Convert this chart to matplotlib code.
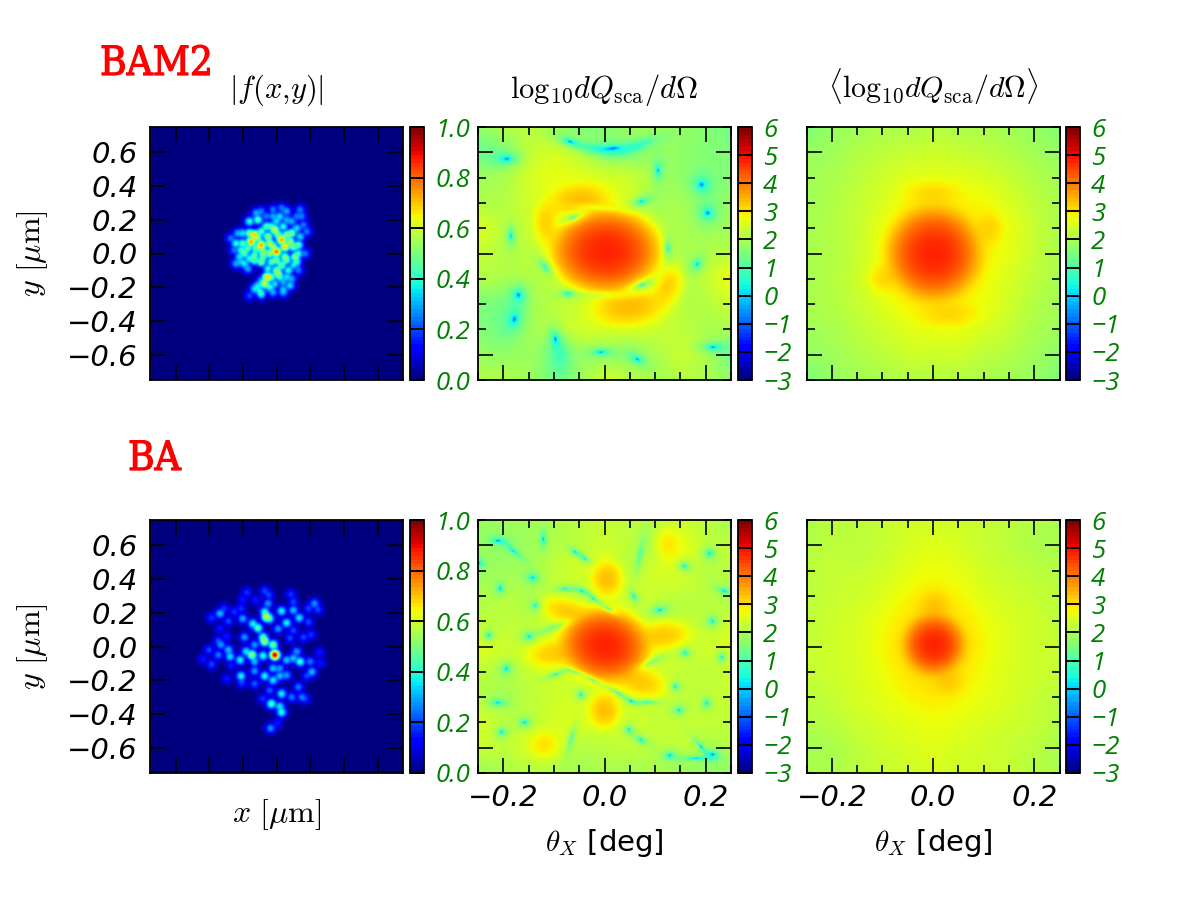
import numpy as np
import matplotlib
matplotlib.use('Agg')
import matplotlib.pyplot as plt
import matplotlib.patheffects as pe
from matplotlib import cm, colors
from matplotlib.ticker import MultipleLocator

plt.rcParams['mathtext.fontset'] = 'cm'
plt.rcParams['font.family'] = 'DejaVu Sans'

# monomers of the two aggregates: x [um], y [um], |f|
bam2_x = [.03, -.02, .06, .14, .15, -.12, -.06, .02, -.16, -.11, -.06, 0, .09, .16, .18, -.23, -.27, -.24, -.20, -.19,
          -.22, -.24, -.19, -.17, -.13, -.09, -.03, .03, .06, .11, .13, .17, .10, .09, .08, .12, .07, .13, .09, .08,
          .04, -.01, .04, -.02, -.09, -.13, -.16, -.11, .01, -.04, -.08, -.16,
          -.15, -.13, -.09, 0, .03, .05, -.01, -.02, -.05, -.055, -.07, 0,
          -.2, -.17, -.12, -.13, -.16, -.09, -.03, .04, .12, .06, -.02, -.09, .12, .14, .06, .13, .10, .05, 0, -.05,
          .02, .06, .04, -.03, -.04, -.1, -.09, -.21, -.25, -.21, -.08, -.11, -.04, .01]
bam2_y = [.27, .26, .25, .26, .22, .24, .22, .22, .19, .20, .16, .19, .19, .17, .13, .12, .09, .06, .06, 0,
          -.02, -.06, -.06, -.09, -.04, -.05, -.05, -.07, -.04, -.02, 0, 0, .04, .12, .07, -.05, -.10, -.10, -.15, -.19,
          -.17, -.18, -.23, -.23, -.24, -.21, -.25, -.19, -.12, 0, .01, .12,
          .07, .11, .05, .01, .08, .04, .14, .04, .10, -.14, -.18, -.10,
          .12, .03, .03, -.01, -.03, .13, .16, .16, .15, .20, .22, .25, .22, .10, .11, .05, -.07, -.02, -.04, -.09,
          -.14, -.14, -.21, -.14, -.2, -.22, -.16, .02, .02, -.05, -.02, .09, .06, .11]
bam2_a = [.25, .25, .3, .25, .25, .3, .25, .35, .4, .45, .45, .35, .3, .25, .25, .3, .25, .4, .45, .45,
          .35, .3, .35, .3, .45, .5, .45, .5, .45, .5, .4, .25, .5, .5, .55, .4, .4, .25, .3, .35,
          .3, .35, .3, .3, .4, .35, .2, .35, .5, .55, .55, .5,
          .75, .7, .75, .8, .75, .7, .6, .55, .55, .7, .6, .5,
          .35, .45, .5, .45, .4, .45, .4, .4, .35, .3, .3, .25, .25, .35, .5, .45, .35, .5, .5, .4,
          .4, .35, .3, .45, .4, .35, .3, .4, .25, .3, .45, .5, .55, .5]

ba_x = [-.01, -.06, -.07, -.02, -.145, .14, -.11, -.14, .03, .1, .135, .06, .01, -.07, -.04, -.08, -.08, -.13, -.19, -.2,
        -.335, -.385, -.285, -.25, -.31, -.21, -.175, -.2, -.125, -.07, -.045, -.05, .085, .1, .19, .225, .245, .19, .205, .16,
        .1, .08, -.335, -.295, -.345, -.33, -.4, -.345, -.435, -.385, -.285, -.275, -.215, -.18, -.265, -.13, -.13, -.295, -.21, -.205,
        -.13, -.07, -.02, .02, .06, -.02, .06, .12, .1, .2, .255, .26, .21, .18, .13, -.04, .03, -.08, -.03, .02,
        .03, .09, .15, .17, -.035, .005, .02]
ba_y = [-.05, .175, .03, .01, -.05, -.09, .11, .135, .21, .215, .17, .14, .105, .205, .165, .055, -.055, .01, .055, .165,
        .195, .17, .15, .205, .225, .225, .32, .28, .275, .33, .305, .255, .31, .265, .225, .255, .22, .145, .07, .055,
        .095, .05, .105, .06, .035, .01, -.02, -.05, -.075, -.105, -.02, -.06, -.08, -.03, -.11, -.09, -.145, -.19, -.175, -.215,
        -.22, -.175, -.2, -.175, -.17, -.13, -.08, -.03, -.07, -.09, -.035, -.095, -.15, -.175, -.24, -.26, -.28, -.31, -.34, -.355,
        -.39, -.3, -.3, -.31, -.485, -.455, -.13]
ba_a = [.95, .6, .55, .5, .55, .42, .45, .38, .38, .32, .36, .38, .28, .4, .4, .45, .4, .28, .28, .3,
        .32, .18, .2, .18, .18, .18, .18, .15, .15, .2, .2, .28, .18, .2, .2, .28, .2, .2, .18, .2,
        .2, .2, .15, .15, .2, .28, .2, .25, .15, .2, .32, .35, .38, .36, .15, .32, .28, .15, .38, .2,
        .22, .38, .36, .32, .28, .32, .32, .28, .32, .25, .15, .15, .32, .2, .25, .22, .38, .18, .45, .36,
        .4, .25, .25, .18, .28, .15, .28]

# log10 dQ/dOmega read at every 0.05 deg, rows from y=+0.25 down to y=-0.25
bam2_grid = [[1.8, 2.1, 2.2, 1.8, 1.4, 1.6, 1.9, 1.9, 1.8, 1.6, 1.4],
             [1.2, 1.5, 2.3, 2.5, 2.2, 1.6, 1.5, 1.8, 1.7, 1.6, 1.5],
             [1.9, 2.0, 2.5, 2.7, 2.6, 2.5, 2.4, 2.0, 1.7, 1.5, 1.6],
             [2.0, 2.1, 2.4, 2.6, 2.8, 2.8, 2.4, 1.9, 2.0, 1.6, 1.8],
             [2.6, 2.2, 2.3, 2.6, 2.6, 2.4, 2.2, 2.1, 2.0, 1.8, 1.9],
             [2.3, 2.1, 2.2, 2.4, 2.4, 2.4, 2.4, 2.2, 2.0, 2.1, 2.1],
             [2.1, 2.1, 2.1, 2.2, 2.4, 2.3, 2.2, 2.2, 2.0, 2.3, 2.9],
             [1.5, 1.4, 1.9, 2.2, 2.3, 2.4, 2.3, 2.2, 2.1, 2.1, 2.4],
             [1.6, 1.3, 1.9, 2.3, 2.5, 2.5, 2.5, 2.4, 2.2, 2.0, 2.0],
             [1.8, 1.7, 1.9, 1.4, 1.8, 1.7, 1.6, 2.0, 2.4, 2.1, 1.2],
             [2.1, 2.1, 1.9, 1.4, 1.8, 2.5, 2.2, 1.9, 2.1, 2.0, 1.8]]
ba_grid = [[1.7, 2.0, 1.9, 2.0, 2.2, 2.3, 2.2, 2.1, 2.3, 2.2, 1.8],
           [1.9, 1.6, 1.9, 2.1, 2.2, 2.4, 2.2, 2.0, 2.8, 2.2, 2.3],
           [1.8, 1.9, 1.9, 2.3, 2.5, 2.5, 2.1, 2.5, 2.6, 2.1, 2.2],
           [2.0, 2.2, 2.0, 2.2, 2.1, 2.3, 2.5, 2.3, 2.2, 2.2, 1.9],
           [2.2, 2.2, 2.2, 2.5, 2.6, 2.5, 2.4, 2.2, 2.2, 2.2, 2.4],
           [2.7, 2.4, 2.3, 2.4, 2.5, 2.5, 2.5, 2.3, 2.4, 2.4, 2.6],
           [2.2, 2.1, 2.3, 2.4, 2.4, 2.4, 2.5, 2.4, 2.3, 2.2, 2.4],
           [2.1, 1.9, 2.2, 2.4, 2.4, 2.5, 2.3, 2.3, 2.2, 2.3, 2.3],
           [2.5, 2.2, 2.2, 2.5, 2.6, 2.4, 2.4, 2.3, 2.3, 2.3, 2.2],
           [2.4, 2.2, 2.6, 2.6, 2.1, 2.2, 2.3, 2.2, 2.3, 2.0, 2.2],
           [1.8, 2.0, 2.1, 2.0, 1.9, 2.0, 1.9, 2.0, 1.8, 1.7, 1.7]]
bam2_avg_grid = [[1.5, 1.8, 1.9, 2.0, 2.0, 2.1, 2.0, 2.0, 1.9, 1.8, 1.5],
                 [1.8, 1.9, 2.1, 2.2, 2.3, 2.4, 2.3, 2.2, 2.1, 1.9, 1.8],
                 [1.9, 2.0, 2.2, 2.4, 2.6, 2.6, 2.6, 2.5, 2.3, 2.1, 1.9],
                 [1.9, 2.1, 2.3, 2.5, 2.8, 2.8, 2.8, 2.8, 2.5, 2.2, 2.0],
                 [2.0, 2.1, 2.3, 2.6, 2.8, 2.9, 2.8, 2.8, 2.7, 2.3, 2.0],
                 [2.0, 2.1, 2.3, 2.6, 2.8, 2.9, 2.8, 2.8, 2.6, 2.3, 2.0],
                 [2.0, 2.1, 2.4, 2.7, 2.8, 2.9, 2.8, 2.7, 2.5, 2.2, 2.0],
                 [2.0, 2.1, 2.3, 2.6, 2.8, 2.8, 2.8, 2.7, 2.4, 2.1, 1.9],
                 [1.9, 2.0, 2.2, 2.4, 2.6, 2.7, 2.7, 2.5, 2.3, 2.0, 1.9],
                 [1.8, 1.9, 2.1, 2.2, 2.4, 2.4, 2.4, 2.2, 2.1, 1.9, 1.7],
                 [1.5, 1.8, 1.9, 2.0, 2.1, 2.1, 2.1, 2.0, 1.9, 1.8, 1.5]]
ba_avg_grid = [[2.0, 2.2, 2.2, 2.3, 2.4, 2.4, 2.4, 2.3, 2.2, 2.1, 2.0],
               [2.1, 2.2, 2.2, 2.3, 2.5, 2.6, 2.5, 2.3, 2.2, 2.0, 2.0],
               [2.2, 2.3, 2.3, 2.4, 2.6, 2.7, 2.6, 2.4, 2.3, 2.2, 2.1],
               [2.2, 2.3, 2.4, 2.5, 2.7, 2.8, 2.7, 2.5, 2.4, 2.3, 2.2],
               [2.2, 2.4, 2.5, 2.6, 2.8, 2.9, 2.8, 2.6, 2.5, 2.4, 2.2],
               [2.3, 2.4, 2.5, 2.7, 2.9, 3.0, 2.9, 2.7, 2.5, 2.4, 2.3],
               [2.3, 2.4, 2.5, 2.6, 2.8, 2.9, 2.8, 2.6, 2.5, 2.4, 2.3],
               [2.2, 2.3, 2.5, 2.6, 2.7, 2.8, 2.7, 2.6, 2.5, 2.3, 2.2],
               [2.1, 2.2, 2.4, 2.5, 2.6, 2.7, 2.6, 2.5, 2.4, 2.3, 2.1],
               [1.9, 2.0, 2.2, 2.4, 2.5, 2.6, 2.5, 2.4, 2.3, 2.2, 2.0],
               [2.1, 2.0, 2.2, 2.3, 2.4, 2.5, 2.4, 2.4, 2.3, 2.1, 2.0]]

# bright lobes: x, y, half width, half height, angle, peak
bam2_lobes = [(.003, .005, .103, .08, 0, 4.85), (-.05, .105, .08, .045, 5, 3.25), (-.115, .06, .035, .06, 0, 3.1),
              (.05, -.105, .1, .05, 5, 3.35), (.125, -.062, .04, .055, -20, 3.15)]
ba_lobes = [(.001, .002, .085, .07, -10, 4.85), (-.10, -.014, .075, .04, 5, 3.15), (-.075, .07, .075, .035, -15, 3.15),
            (.115, .022, .075, .04, 5, 3.2), (.07, -.07, .075, .04, -15, 3.2), (.005, .133, .042, .05, 0, 3.3),
            (0, -.126, .042, .048, 0, 3.3), (.125, .202, .035, .05, 0, 2.85), (-.119, -.194, .04, .04, 0, 2.85)]
bam2_avg_lobes = [(.001, 0, .09, .09, 0, 4.85), (0, 0, .15, .15, 0, 2.9), (.11, .05, .04, .05, 0, 2.92),
                  (-.1, -.05, .04, .04, 0, 2.85), (.03, -.12, .09, .035, 0, 2.88), (0, .12, .08, .035, 0, 2.85)]
ba_avg_lobes = [(.001, .004, .06, .06, 0, 4.85), (.002, .08, .045, .045, 0, 3.05), (.03, -.07, .045, .04, 0, 2.9),
                (0, 0, .16, .18, 0, 2.85)]

# minima of the pattern: x, y, half width, half height, angle, floor
bam2_nulls = [(-.068, .221, .03, .01, -20, .002), (.017, .208, .035, .01, 5, .003), (-.02, .208, .05, .012, -10, .1),
              (.07, .215, .05, .012, 20, .1), (.106, .164, .012, .025, 0, .003), (.192, .136, .02, .02, 0, .001),
              (.073, .103, .025, .012, 20, .002), (.204, .080, .02, .02, 0, .001), (-.193, .187, .03, .015, 0, .002),
              (-.185, .035, .012, .025, 0, .003), (.125, .010, .01, .025, 0, .004), (-.117, -.026, .012, .025, 40, .01),
              (.183, -.021, .015, .02, -30, .004), (-.072, -.079, .02, .01, 0, .005), (.074, -.062, .03, .012, 20, .001),
              (-.170, -.082, .02, .025, 0, .001), (-.178, -.130, .018, .025, -15, .001), (-.097, -.169, .015, .03, 10, .001),
              (-.007, -.195, .025, .01, 0, .002), (.065, -.209, .022, .012, -30, .002), (.214, -.185, .03, .012, 0, .002),
              (-.062, .072, .03, .012, 20, .005), (-.085, -.205, .02, .04, 0, .3), (-.01, .09, .05, .006, -5, .35),
              (-.01, -.082, .05, .007, 0, .3)]
ba_nulls = [(-.211, .209, .02, .008, -5, .001), (-.180, .189, .03, .006, -40, .01), (-.121, .212, .008, .022, 0, .001),
            (-.058, .187, .016, .008, -35, .002), (-.039, .174, .016, .008, -35, .002), (-.142, .136, .016, .012, 0, .003),
            (-.206, .115, .012, .015, 0, .001), (-.136, .081, .014, .014, 0, .004), (-.229, .022, .014, .014, 0, .002),
            (-.149, .020, .016, .012, 0, .003), (-.101, .038, .04, .008, 20, .1), (-.078, .114, .02, .006, 0, .006),
            (-.045, .110, .02, .006, -20, .003), (-.022, .095, .02, .006, -35, .002), (.007, .075, .02, .006, -30, .003),
            (.058, .099, .01, .018, 30, .003), (.109, .072, .022, .012, 10, .001), (.070, .182, .008, .04, -10, .08),
            (.158, .159, .016, .014, 0, .002), (.207, .184, .014, .014, 0, .003), (.237, .110, .02, .008, -20, .003),
            (.213, .050, .014, .014, 0, .003), (.159, -.012, .014, .012, 0, .003), (.232, -.021, .012, .014, 0, .003),
            (.093, -.031, .03, .008, 25, .1), (-.194, -.044, .015, .014, 0, .002), (-.096, -.055, .025, .006, 20, .001),
            (-.06, -.05, .03, .005, -15, .02), (-.024, -.066, .025, .005, -25, .001), (.028, -.093, .03, .005, -30, .004),
            (.053, -.108, .014, .005, -20, .001), (.083, -.110, .03, .006, 0, .008), (-.047, -.095, .012, .012, 0, .004),
            (.140, -.079, .012, .012, 0, .003), (.202, -.112, .012, .014, 0, .003), (.147, -.126, .015, .012, 0, .002),
            (-.211, -.111, .02, .01, 0, .002), (-.158, -.150, .016, .012, 0, .002), (-.203, -.169, .014, .012, 30, .003),
            (-.065, -.182, .008, .035, -15, .06), (.048, -.164, .012, .012, -30, .004), (.072, -.184, .02, .01, -30, .004),
            (.129, -.215, .018, .012, 0, .002), (.214, -.213, .018, .012, 0, .0003), (.191, -.198, .028, .006, -50, .002),
            (.181, -.221, .04, .006, 0, .006), (-.248, .165, .012, .012, 0, .003)]

titles = [r'$|f(x{,}y)|$', r'$\log_{10}\!dQ_{\mathrm{sca}}/d\Omega$', r'$\langle\log_{10}\!dQ_{\mathrm{sca}}/d\Omega\rangle$']
row_names = ['BAM2', 'BA']
cb_ticks_left = [0, .2, .4, .6, .8, 1]
cb_labels_left = ['0.0', '0.2', '0.4', '0.6', '0.8', '1.0']
cb_ticks_q = [-3, -2, -1, 0, 1, 2, 3, 4, 5, 6]
cb_labels_q = ['\u22123', '\u22122', '\u22121', '0', '1', '2', '3', '4', '5', '6']
y_ticks = [-.6, -.4, -.2, 0, .2, .4, .6]
y_labels = ['\u22120.6', '\u22120.4', '\u22120.2', '0.0', '0.2', '0.4', '0.6']
theta_labels = ['\u22120.2', '0.0', '0.2']


def monomer_image(xs, ys, amps, sigma=.022, n=180):
    g = (np.arange(n) + .5) / n * 1.5 - .75
    X, Y = np.meshgrid(g, g)
    total = np.zeros_like(X)
    for x0, y0, a in zip(xs, ys, amps):
        total += (a * np.exp(-((X - x0) ** 2 + (Y - y0) ** 2) / (2 * sigma ** 2))) ** 3
    return total ** (1 / 3)


def smooth_grid(grid, n, passes=3):
    coarse = np.array(grid)[::-1]
    src = np.linspace(-.25, .25, coarse.shape[0])
    g = (np.arange(n) + .5) / n * .5 - .25
    rows = np.array([np.interp(g, src, r) for r in coarse])
    fine = np.array([np.interp(g, src, c) for c in rows.T]).T
    w = n // 22
    kernel = np.ones(w) / w
    for _ in range(passes):
        fine = np.array([np.convolve(np.pad(r, w, mode='edge'), kernel, mode='same')[w:-w] for r in fine])
        fine = np.array([np.convolve(np.pad(c, w, mode='edge'), kernel, mode='same')[w:-w] for c in fine.T]).T
    return g, fine


def pattern_image(grid, lobes, nulls, n=400):
    g, base = smooth_grid(grid, n)
    X, Y = np.meshgrid(g, g)
    Q = 10.0 ** base
    for x0, y0, rx, ry, ang, peak in lobes:
        t = np.radians(ang)
        u = (X - x0) * np.cos(t) + (Y - y0) * np.sin(t)
        v = -(X - x0) * np.sin(t) + (Y - y0) * np.cos(t)
        d2 = (u / rx) ** 2 + (v / ry) ** 2
        Q += 10.0 ** (peak - 1.3 * d2 - .4 * d2 ** 2)
    for x0, y0, rx, ry, ang, floor in nulls:
        t = np.radians(ang)
        u = (X - x0) * np.cos(t) + (Y - y0) * np.sin(t)
        v = -(X - x0) * np.sin(t) + (Y - y0) * np.cos(t)
        d2 = (u / rx) ** 2 + (v / ry) ** 2
        Q *= 1 - (1 - floor) * np.exp(-d2 / 1.4)
    return np.log10(Q)


def add_axes_px(fig, left, top, right, bottom):
    W, H = 1200.0, 900.0
    return fig.add_axes([left / W, 1 - bottom / H, (right - left) / W, (bottom - top) / H])


def add_colorbar(fig, mappable_range, ticks, labels, left, top, bottom):
    cax = add_axes_px(fig, left, top, left + 14, bottom)
    sm = cm.ScalarMappable(norm=colors.Normalize(*mappable_range), cmap=plt.get_cmap('jet', 64))
    cb = fig.colorbar(sm, cax=cax)
    cb.set_ticks(ticks)
    cb.set_ticklabels(labels)
    cb.outline.set_linewidth(1.3)
    cax.minorticks_off()
    cax.tick_params(which='major', direction='in', length=10, width=1.2, left=True, right=True,
                    labelright=True, labelleft=False, pad=8, labelcolor='green')
    for t in cax.get_yticklabels():
        t.set_family('Open Sans')
        t.set_style('italic')
        t.set_fontsize(18.5)
    return cb


def style_axes(ax, span, ticks, minor=None):
    ax.set_xlim(-span, span)
    ax.set_ylim(-span, span)
    ax.set_xticks(ticks)
    ax.set_yticks(ticks)
    if minor:
        ax.xaxis.set_minor_locator(MultipleLocator(minor))
        ax.yaxis.set_minor_locator(MultipleLocator(minor))
    ax.tick_params(which='major', direction='in', length=11, width=1.2, top=True, right=True,
                   labelbottom=False, labelleft=False)
    ax.tick_params(which='minor', direction='in', length=5.5, width=1.2, top=True, right=True)
    for s in ax.spines.values():
        s.set_linewidth(1.3)


fig = plt.figure(figsize=(12, 9), dpi=100)

row_tops = [127, 520]
row_bottoms = [380, 773]
monomers = [(bam2_x, bam2_y, bam2_a), (ba_x, ba_y, ba_a)]
patterns = [(bam2_grid, bam2_lobes, bam2_nulls), (ba_grid, ba_lobes, ba_nulls)]
averages = [(bam2_avg_grid, bam2_avg_lobes, []), (ba_avg_grid, ba_avg_lobes, [])]

for r in range(2):
    top, bottom = row_tops[r], row_bottoms[r]

    # aggregate image
    ax = add_axes_px(fig, 150, top, 403.5, bottom)
    ax.imshow(monomer_image(*monomers[r]), origin='lower', extent=[-.75, .75, -.75, .75],
              cmap='jet', vmin=0, vmax=1, interpolation='bilinear')
    style_axes(ax, .75, y_ticks)
    ax.set_yticklabels(y_labels, fontsize=21, style='italic')
    ax.tick_params(axis='y', labelleft=True, pad=9)
    ax.set_ylabel(r'$y\ [\mu\mathrm{m}]$', fontsize=23)
    ax.yaxis.set_label_coords(-.395, .5)
    add_colorbar(fig, (0, 1), cb_ticks_left, cb_labels_left, 410, top, bottom)

    # single orientation pattern
    ax2 = add_axes_px(fig, 477.5, top, 731.5, bottom)
    ax2.imshow(pattern_image(*patterns[r]), origin='lower',
               extent=[-.25, .25, -.25, .25], cmap='jet', vmin=-3, vmax=6, interpolation='bilinear')
    style_axes(ax2, .25, [-.2, 0, .2], .05)
    add_colorbar(fig, (-3, 6), cb_ticks_q, cb_labels_q, 738, top, bottom)

    # orientation average
    ax3 = add_axes_px(fig, 806, top, 1060, bottom)
    ax3.imshow(pattern_image(*averages[r]), origin='lower',
               extent=[-.25, .25, -.25, .25], cmap='jet', vmin=-3, vmax=6, interpolation='bilinear')
    style_axes(ax3, .25, [-.2, 0, .2], .05)
    add_colorbar(fig, (-3, 6), cb_ticks_q, cb_labels_q, 1066, top, bottom)

    if r == 0:
        ax.set_title(titles[0], fontsize=22, pad=21)
        ax2.set_title(titles[1], fontsize=22, pad=21)
        ax3.set_title(titles[2], fontsize=21.5, pad=21)
    else:
        ax.set_xlabel(r'$x\ [\mu\mathrm{m}]$', fontsize=23)
        ax.xaxis.set_label_coords(.5, -.095)
        for a in (ax2, ax3):
            a.set_xticklabels(theta_labels, fontsize=21, style='italic')
            a.tick_params(axis='x', labelbottom=True, pad=8)
            a.set_xlabel(r'$\theta_X$ [deg]', fontsize=21)
            a.xaxis.set_label_coords(.5, -.215)

thick = [pe.withStroke(linewidth=.9, foreground='red')]
fig.text(100 / 1200, 1 - 75 / 900, row_names[0], color='red', fontsize=29, family='DejaVu Serif',
         stretch='condensed', path_effects=thick)
fig.text(128 / 1200, 1 - 470 / 900, row_names[1], color='red', fontsize=29, family='DejaVu Serif',
         stretch='condensed', path_effects=thick)

fig.savefig('out.png', dpi=100)
